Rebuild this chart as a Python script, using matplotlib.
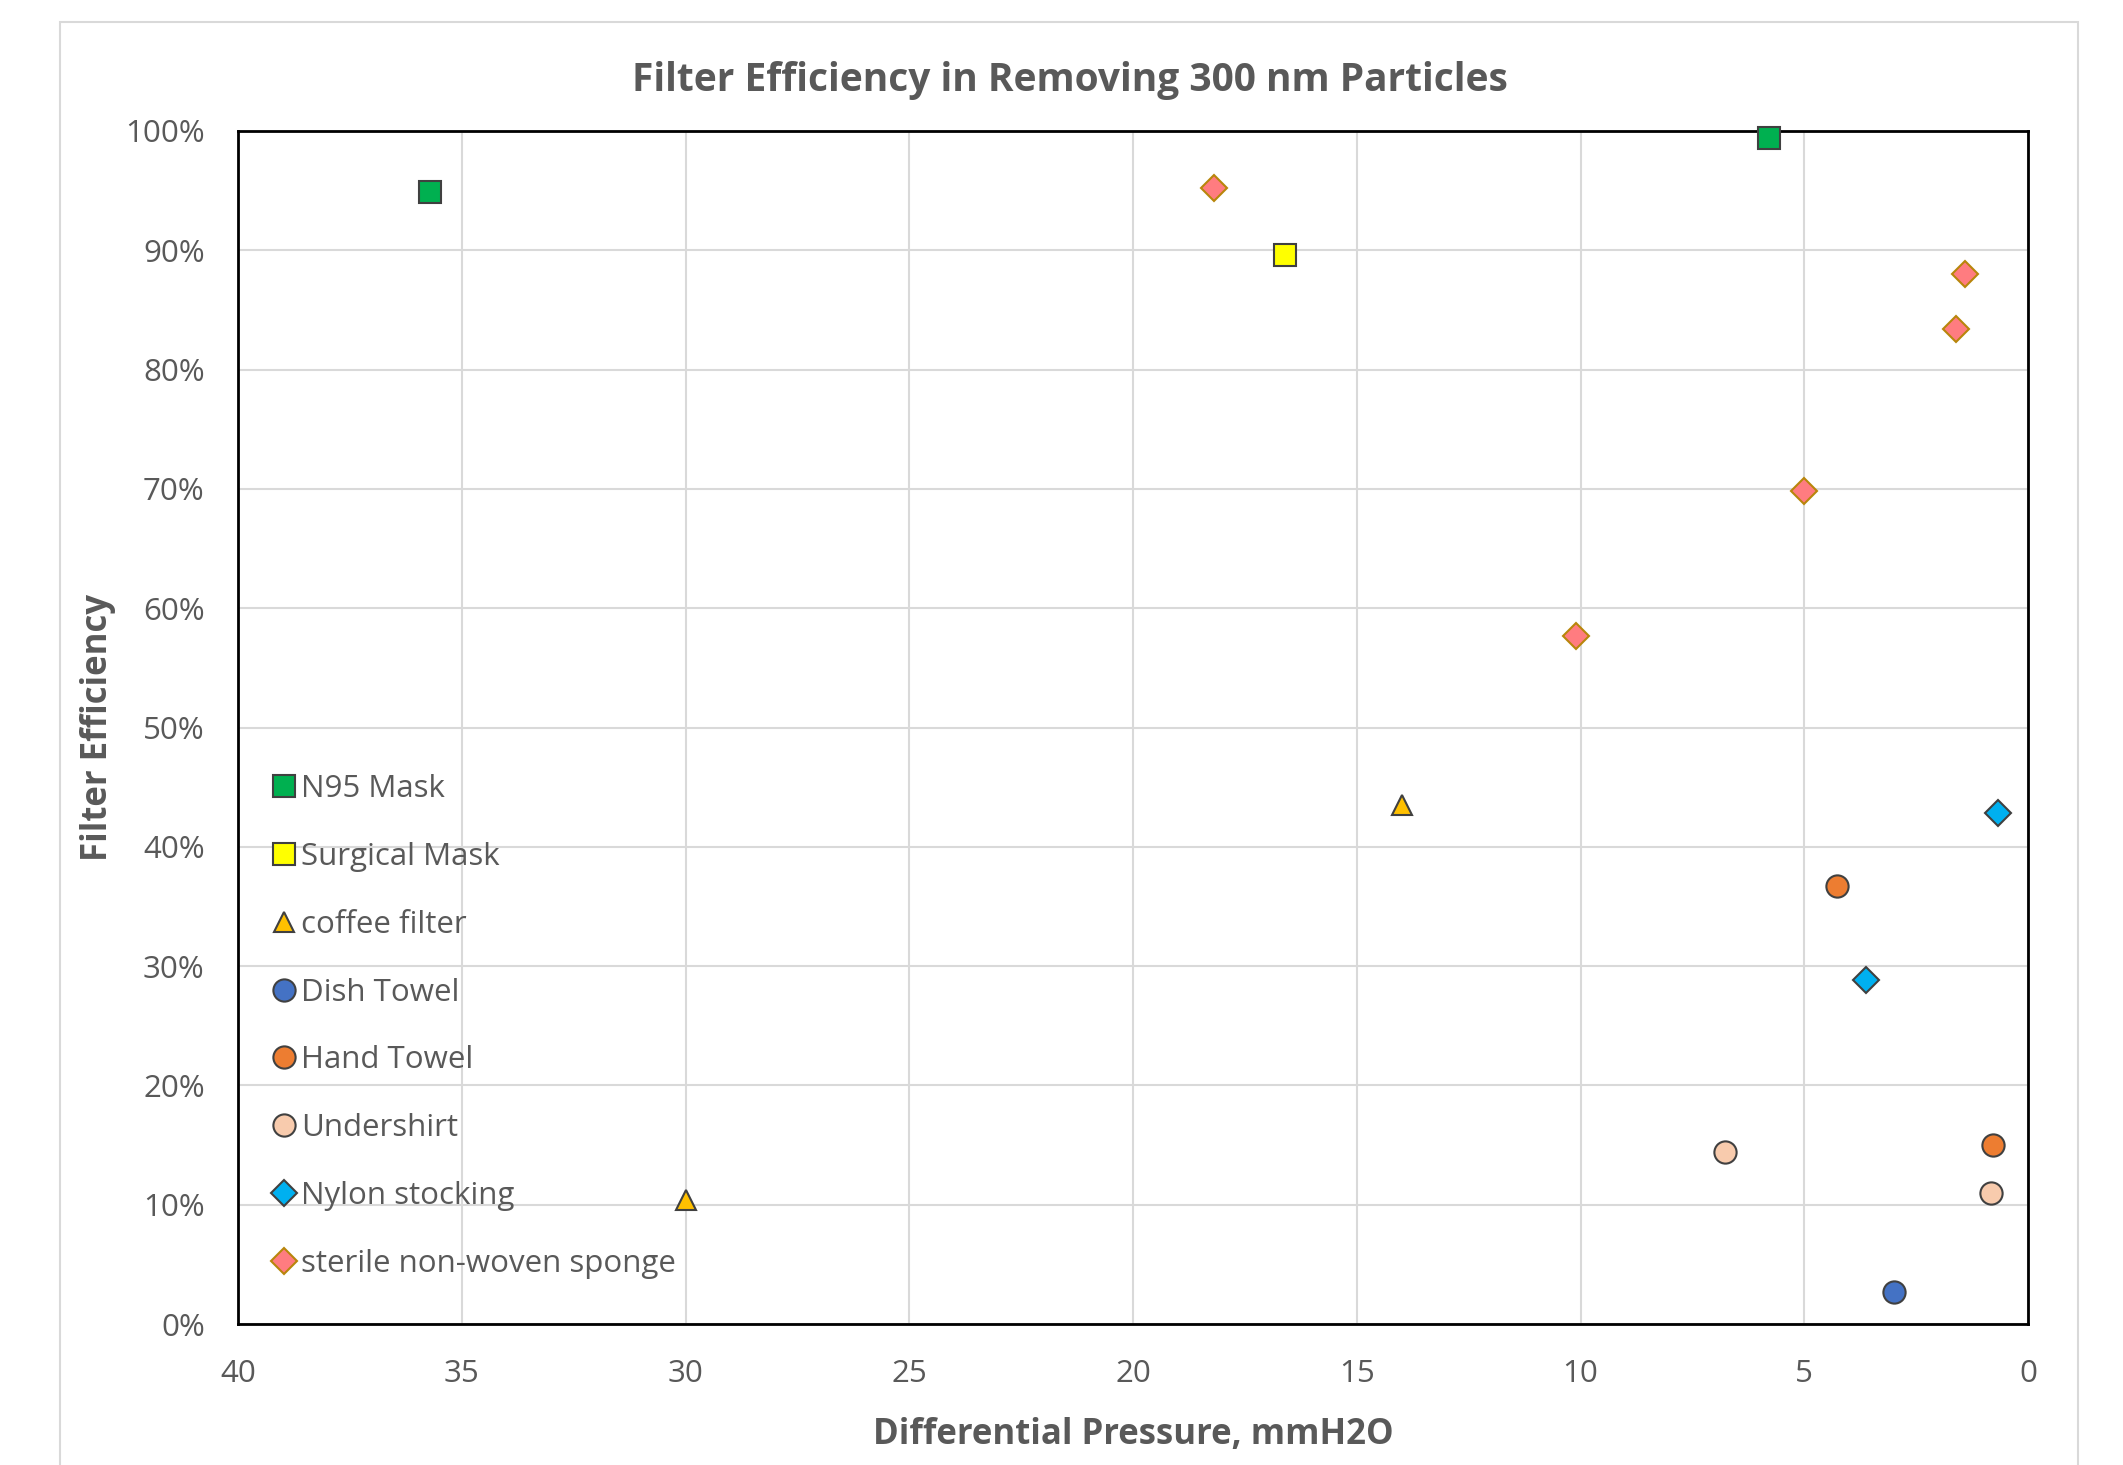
import matplotlib.pyplot as plt
from matplotlib.patches import Rectangle
from matplotlib.ticker import PercentFormatter

#--------------------------------------------#
                #DATA
#--------------------------------------------#

names = ["N95 Mask", "Surgical Mask", "coffee filter", "Dish Towel",
         "Hand Towel", "Undershirt", "Nylon stocking", "sterile non-woven sponge"]

# differential pressure, mmH2O
n95_x = [35.7, 5.8]
surgical_x = [16.6]
coffee_x = [14.0, 30.0]
dish_x = [3.0]
hand_x = [4.27, 0.79]
under_x = [6.78, 0.82]
nylon_x = [0.67, 3.63]
sponge_x = [18.2, 1.42, 1.6, 5.0, 10.1]

# filter efficiency
n95_y = [0.949, 0.994]
surgical_y = [0.896]
coffee_y = [0.435, 0.104]
dish_y = [0.027]
hand_y = [0.367, 0.150]
under_y = [0.144, 0.110]
nylon_y = [0.428, 0.288]
sponge_y = [0.952, 0.880, 0.834, 0.698, 0.577]

x_ticks = [40, 35, 30, 25, 20, 15, 10, 5, 0]
y_ticks = [0, 0.1, 0.2, 0.3, 0.4, 0.5, 0.6, 0.7, 0.8, 0.9, 1.0]

#--------------------------------------------#

txt = "#595959"
edge = "#404040"
plt.rcParams['font.family'] = ['Open Sans', 'DejaVu Sans']

fig = plt.figure(figsize=(21.23, 14.65), dpi=100)
ax = fig.add_axes([0.1121, 0.0962, 0.8432, 0.8144])

# outer chart frame
fig.patches.append(Rectangle((60/2123, -0.1), (2078-60)/2123, 1.1 - 22/1465,
                             transform=fig.transFigure, fill=False,
                             edgecolor="#d9d9d9", linewidth=1.5))

series = [
    (n95_x, n95_y, "s", "#00B050", edge, 16),
    (surgical_x, surgical_y, "s", "#FFFF00", edge, 16),
    (coffee_x, coffee_y, "^", "#FFC000", edge, 15),
    (dish_x, dish_y, "o", "#4472C4", edge, 16),
    (hand_x, hand_y, "o", "#ED7D31", edge, 16),
    (under_x, under_y, "o", "#F8CBAD", edge, 16),
    (nylon_x, nylon_y, "D", "#00B0F0", edge, 13),
    (sponge_x, sponge_y, "D", "#FF7C80", "#B8860B", 13),
]

for (xs, ys, m, fc, ec, ms), name in zip(series, names):
    ax.plot(xs, ys, linestyle="none", marker=m, markersize=ms,
            markerfacecolor=fc, markeredgecolor=ec, markeredgewidth=1.5,
            label=name, zorder=3, clip_on=False)

ax.set_xlim(40, 0)
ax.set_ylim(0, 1)
ax.set_xticks(x_ticks)
ax.set_yticks(y_ticks)
ax.yaxis.set_major_formatter(PercentFormatter(1.0, decimals=0))
ax.grid(True, color="#d9d9d9", linewidth=1.5)
ax.set_axisbelow(True)
ax.tick_params(axis="both", length=0, labelsize=22.5, labelcolor=txt)
ax.tick_params(axis="y", pad=24)
ax.tick_params(axis="x", pad=25)
for s in ax.spines.values():
    s.set_linewidth(2)
    s.set_color("black")

ax.set_xlabel("Differential Pressure, mmH2O", fontsize=25, fontweight="bold",
              color=txt, va="center")
ax.xaxis.set_label_coords(0.5, -0.093)
ax.set_ylabel("Filter Efficiency", fontsize=25, fontweight="bold",
              color=txt, va="center")
ax.yaxis.set_label_coords(-0.078, 0.5)

fig.text(0.504, 0.945, "Filter Efficiency in Removing 300 nm Particles",
         fontsize=28, fontweight="bold", color=txt, ha="center", va="center")

leg = ax.legend(loc="upper left", bbox_to_anchor=(0.009, 0.474), frameon=False,
                fontsize=22.5, labelspacing=1.21, handletextpad=0.1,
                handlelength=0.9, borderpad=0, markerscale=1.0)
for t in leg.get_texts():
    t.set_color(txt)

plt.savefig("out.png", dpi=100)
